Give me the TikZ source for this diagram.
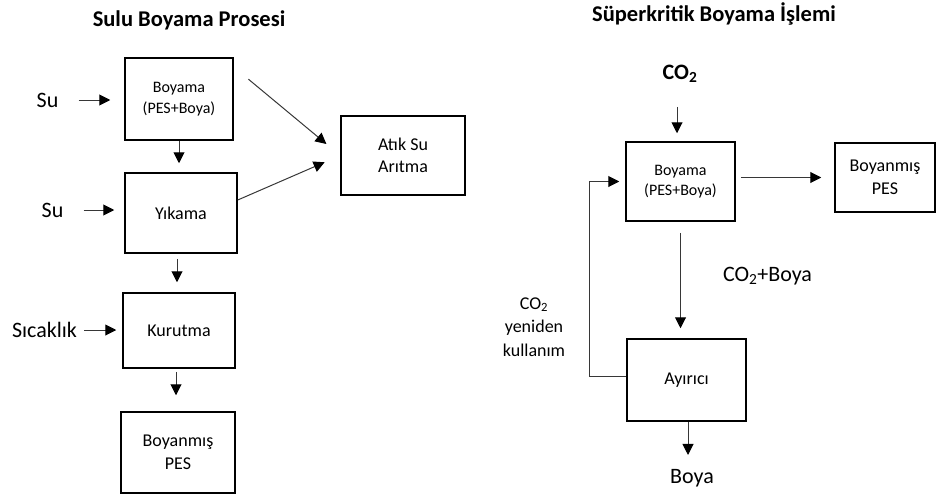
\documentclass[tikz,border=0pt]{standalone}
\usepackage{fontspec}
\setmainfont{Carlito}
\usetikzlibrary{arrows.meta}
\definecolor{lineclr}{RGB}{55,55,55}

\begin{document}
\begin{tikzpicture}[x=1pt,y=-1pt,
    box/.style={draw=black,line width=1.5pt,inner sep=0pt,align=center,
      font=\fontsize{18}{22.5}\selectfont},
    smallbox/.style={box,font=\fontsize{16}{20.5}\selectfont},
    lbl/.style={inner sep=0pt,align=center,font=\fontsize{22}{26}\selectfont},
    ttl/.style={inner sep=0pt,font=\fontsize{22.5}{26}\selectfont\bfseries},
    arr/.style={draw=lineclr,line width=1pt,
      -{Triangle[length=11pt,width=11pt,color=black]}}]
  \useasboundingbox (0,0) rectangle (936,495);

  % Sulu boyama
  \node[ttl] (title1) at (189,20) {Sulu Boyama Prosesi};

  \node[smallbox,minimum width=108pt,minimum height=82pt] (boyama1) at (179,99) {Boyama\\(PES+Boya)};
  \node[box,minimum width=112pt,minimum height=80pt] (yikama) at (181,213) {Y\i kama};
  \node[box,minimum width=112pt,minimum height=75pt] (kurutma) at (179,330.5) {Kurutma};
  \node[box,minimum width=114pt,minimum height=81pt] (urun1) at (178,452.5) {Boyanmış\\PES};
  \node[box,minimum width=124pt,minimum height=79pt] (atiksu) at (403,155.5) {Atık Su\\Arıtma};

  \node[lbl] (su1) at (47.5,100) {Su};
  \node[lbl] (su2) at (52.5,210) {Su};
  \node[lbl] (isi) at (44.5,330) {Sıcaklık};

  % Girisler
  \draw[arr,shorten <=20pt,shorten >=14pt] (su1.east) -- (su1.east -| boyama1.west);
  \draw[arr,shorten <=20pt,shorten >=10pt] (su2.east) -- (su2.east -| yikama.west);
  \draw[arr,shorten <=7pt,shorten >=6pt] (isi.east) -- (isi.east -| kurutma.west);

  % Akis
  \draw[arr,shorten >=9pt] (boyama1.south) -- (boyama1.south |- yikama.north);
  \draw[arr,shorten <=5pt,shorten >=10pt] ([xshift=-4pt]yikama.south) -- ([xshift=-4pt]yikama.south |- kurutma.north);
  \draw[arr,shorten <=3pt,shorten >=16pt] ([xshift=-3pt]kurutma.south) -- ([xshift=-3pt]kurutma.south |- urun1.north);
  \draw[arr,shorten <=19pt,shorten >=18pt] ([yshift=32pt]boyama1.east) -- (atiksu.west);
  \draw[arr,shorten >=17pt] ([yshift=13pt]yikama.east) -- (atiksu.west);

  % Superkritik boyama
  \node[ttl] (title2) at (714,14) {Süperkritik Boyama İşlemi};

  \node[smallbox,minimum width=109pt,minimum height=79pt] (boyama2) at (680.5,181.5) {Boyama\\(PES+Boya)};
  \node[box,minimum width=100pt,minimum height=69pt] (urun2) at (885,177.5) {Boyanmış\\PES};
  \node[box,minimum width=119pt,minimum height=82pt] (ayirici) at (686.5,380) {Ayırıcı};

  \node[lbl,font=\fontsize{22}{26}\selectfont\bfseries] (co2) at (680,74) {CO\textsubscript{2}};
  \node[lbl] (co2boya) at (767.5,276) {CO\textsubscript{2}+Boya};
  \node[lbl,font=\fontsize{18}{23.5}\selectfont] (geri) at (534,327) {CO\textsubscript{2}\\yeniden\\kullanım};
  \node[lbl] (boya) at (692,478) {Boya};

  \draw[arr,shorten <=24pt,shorten >=8pt] ([xshift=-3pt]co2.south) -- ([xshift=-3pt]co2.south |- boyama2.north);
  \draw[arr,shorten <=5pt,shorten >=13pt] (urun2.west -| boyama2.east) -- (urun2.west);
  \draw[arr,shorten <=11pt,shorten >=10pt] (boyama2.south) -- (boyama2.south |- ayirici.north);
  \draw[arr,shorten >=6pt] ([yshift=4pt]ayirici.west) -- ++(-37,0) |- (boyama2.west);
  \draw[arr,shorten >=14pt] ([xshift=1.5pt]ayirici.south) -- ([xshift=1.5pt]ayirici.south |- boya.north);
\end{tikzpicture}
\end{document}
